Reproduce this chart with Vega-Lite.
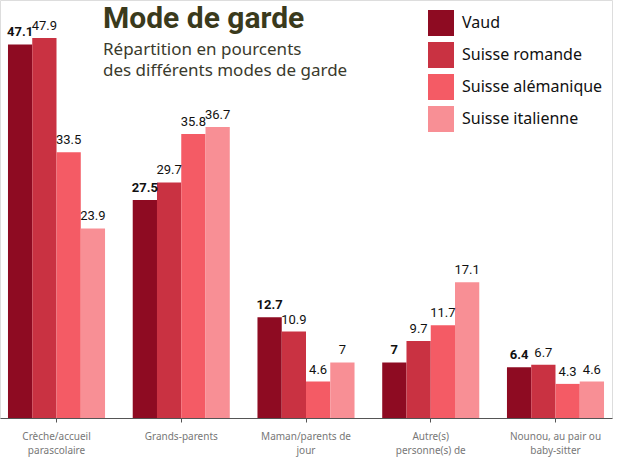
{
  "$schema": "https://vega.github.io/schema/vega-lite/v6.json",
  "width": 612,
  "height": 418,
  "padding": {"left": 0, "top": 0, "right": 10, "bottom": 40},
  "autosize": "none",
  "background": "white",
  "title": {
    "text": "Mode de garde",
    "subtitle": ["Répartition en pourcents", "des différents modes de garde"],
    "anchor": "start",
    "frame": "group",
    "orient": "top",
    "dx": 103,
    "dy": 24,
    "offset": -55,
    "font": "Roboto",
    "fontSize": 30,
    "fontWeight": "bold",
    "color": "#3a3a1c",
    "subtitleFont": "Noto Sans",
    "subtitleFontSize": 17,
    "subtitleColor": "#3a3a2c",
    "subtitleLineHeight": 21,
    "subtitlePadding": 8
  },
  "data": {
    "values": [
      {"cat": "Crèche/accueil|parascolaire", "serie": "Vaud", "v": 47.1},
      {"cat": "Crèche/accueil|parascolaire", "serie": "Suisse romande", "v": 47.9},
      {"cat": "Crèche/accueil|parascolaire", "serie": "Suisse alémanique", "v": 33.5},
      {"cat": "Crèche/accueil|parascolaire", "serie": "Suisse italienne", "v": 23.9},
      {"cat": "Grands-parents", "serie": "Vaud", "v": 27.5},
      {"cat": "Grands-parents", "serie": "Suisse romande", "v": 29.7},
      {"cat": "Grands-parents", "serie": "Suisse alémanique", "v": 35.8},
      {"cat": "Grands-parents", "serie": "Suisse italienne", "v": 36.7},
      {"cat": "Maman/parents de|jour", "serie": "Vaud", "v": 12.7},
      {"cat": "Maman/parents de|jour", "serie": "Suisse romande", "v": 10.9},
      {"cat": "Maman/parents de|jour", "serie": "Suisse alémanique", "v": 4.6},
      {"cat": "Maman/parents de|jour", "serie": "Suisse italienne", "v": 7},
      {"cat": "Autre(s)|personne(s) de", "serie": "Vaud", "v": 7},
      {"cat": "Autre(s)|personne(s) de", "serie": "Suisse romande", "v": 9.7},
      {"cat": "Autre(s)|personne(s) de", "serie": "Suisse alémanique", "v": 11.7},
      {"cat": "Autre(s)|personne(s) de", "serie": "Suisse italienne", "v": 17.1},
      {"cat": "Nounou, au pair ou|baby-sitter", "serie": "Vaud", "v": 6.4},
      {"cat": "Nounou, au pair ou|baby-sitter", "serie": "Suisse romande", "v": 6.7},
      {"cat": "Nounou, au pair ou|baby-sitter", "serie": "Suisse alémanique", "v": 4.3},
      {"cat": "Nounou, au pair ou|baby-sitter", "serie": "Suisse italienne", "v": 4.6}
    ]
  },
  "encoding": {
    "x": {
      "field": "cat",
      "type": "nominal",
      "sort": null,
      "scale": {"paddingInner": 0.222, "paddingOuter": 0.064},
      "axis": {
        "title": null,
        "labelAngle": 0,
        "labelExpr": "split(datum.value, '|')",
        "labelFont": "Noto Sans",
        "labelFontSize": 10,
        "labelColor": "#777777",
        "labelLineHeight": 14,
        "labelPadding": 9,
        "domainColor": "#555555",
        "tickColor": "#555555",
        "tickSize": 4,
        "grid": false
      }
    },
    "xOffset": {"field": "serie", "type": "nominal", "sort": ["Vaud", "Suisse romande", "Suisse alémanique", "Suisse italienne"], "scale": {"paddingInner": 0}},
    "y": {
      "field": "v",
      "type": "quantitative",
      "scale": {"domain": [0, 52.7], "nice": false},
      "axis": null
    }
  },
  "layer": [
    {
      "mark": {"type": "bar"},
      "encoding": {
        "color": {
          "field": "serie",
          "type": "nominal",
          "sort": ["Vaud", "Suisse romande", "Suisse alémanique", "Suisse italienne"],
          "scale": {
            "domain": ["Vaud", "Suisse romande", "Suisse alémanique", "Suisse italienne"],
            "range": ["#8e0b22", "#c93242", "#f45b65", "#f88f95"]
          },
          "legend": {
            "title": null,
            "orient": "none",
            "legendX": 428,
            "legendY": 10,
            "symbolType": "square",
            "symbolSize": 676,
            "symbolStrokeWidth": 0,
            "labelFont": "Noto Sans",
            "labelFontSize": 16,
            "labelColor": "#111111",
            "labelOffset": 8,
            "rowPadding": 6,
            "labelLimit": 200
          }
        }
      }
    },
    {
      "transform": [{"filter": "datum.serie !== 'Vaud'"}],
      "mark": {"type": "text", "baseline": "bottom", "dy": -5, "font": "Roboto", "fontSize": 13, "color": "#111111"},
      "encoding": {
        "text": {"field": "v", "type": "quantitative"}
      }
    },
    {
      "transform": [{"filter": "datum.serie === 'Vaud'"}],
      "mark": {"type": "text", "baseline": "bottom", "dy": -5, "font": "Roboto", "fontSize": 13, "fontWeight": "bold", "color": "#111111"},
      "encoding": {
        "text": {"field": "v", "type": "quantitative"}
      }
    }
  ]
}
